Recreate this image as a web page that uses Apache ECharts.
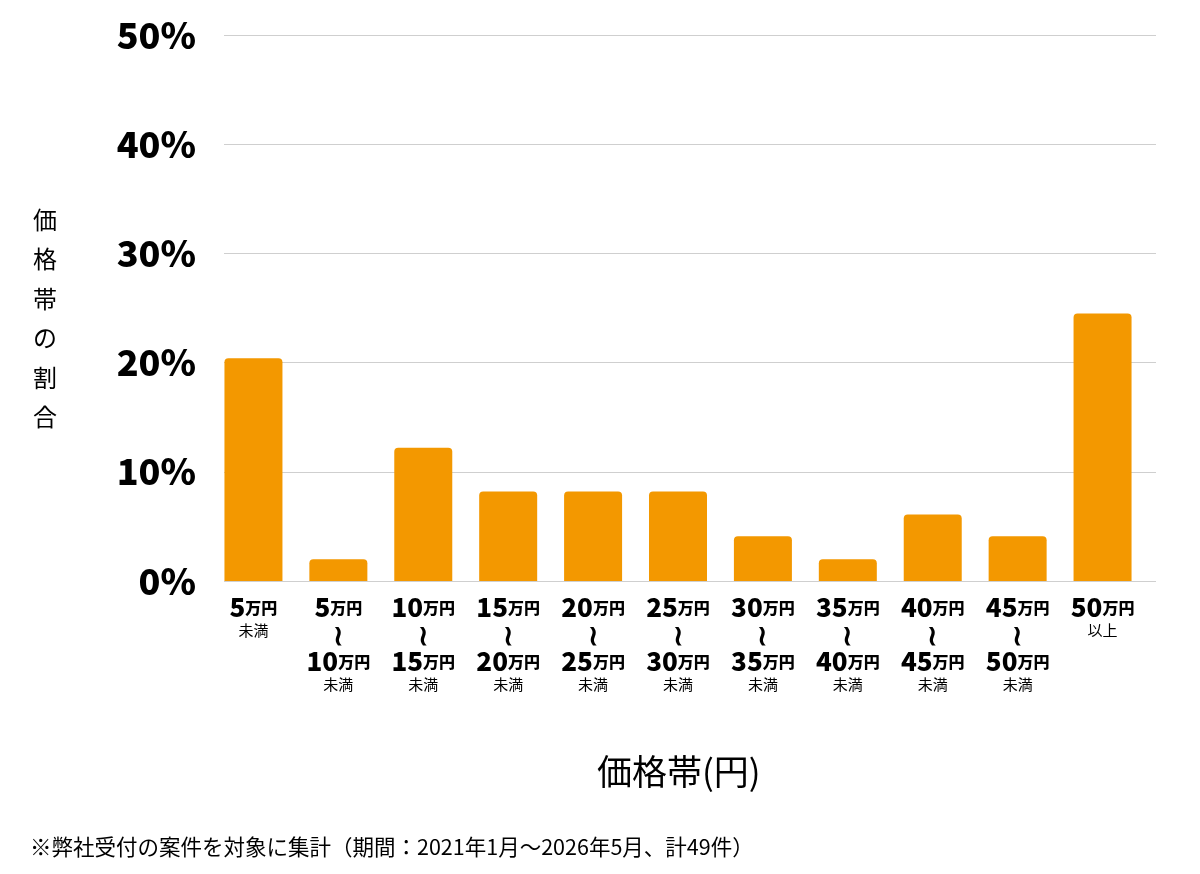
<!DOCTYPE html>
<html>
<head>
<meta charset="utf-8">
<script src="https://cdn.jsdelivr.net/npm/echarts@6/dist/echarts.min.js"></script>
<style>
html,body{margin:0;padding:0;background:#fff;}
#main{width:1200px;height:874px;}
</style>
</head>
<body>
<div id="main"></div>
<script>
const categories = ['5万円未満','5万円〜10万円未満','10万円〜15万円未満','15万円〜20万円未満','20万円〜25万円未満','25万円〜30万円未満','30万円〜35万円未満','35万円〜40万円未満','40万円〜45万円未満','45万円〜50万円未満','50万円以上'];
const shares = [20.4, 2.0, 12.2, 8.2, 8.2, 8.2, 4.1, 2.0, 6.1, 4.1, 24.5];
const yTicks = [0, 10, 20, 30, 40, 50];
const yTitle = '価格帯の割合';
const xTitle = '価格帯(円)';
const footnote = '※弊社受付の案件を対象に集計（期間：2021年1月〜2026年5月、計49件）';

const FONT = '"Noto Sans CJK JP", "Noto Sans", sans-serif';

function fmtCat(v) {
  let m = v.match(/^(\d+)万円〜(\d+)万円(.*)$/);
  if (m) {
    return '{num|' + m[1] + '}{unit|万円}\n{wave|≀}\n{num|' + m[2] + '}{unit|万円}\n{sub|' + m[3] + '}';
  }
  m = v.match(/^(\d+)万円(.*)$/);
  if (m) {
    return '{num|' + m[1] + '}{unit|万円}\n{sub|' + m[2] + '}';
  }
  return v;
}

const chart = echarts.init(document.getElementById('main'));
chart.setOption({
  backgroundColor: '#fff',
  animation: false,
  textStyle: { fontFamily: FONT },
  grid: [
    { left: 224, right: 44, top: 35, bottom: 293 },
    { left: 211, width: 934, top: 35, bottom: 293 }
  ],
  xAxis: [
    { gridIndex: 0, type: 'category', data: categories, show: false },
    {
      gridIndex: 1, type: 'category', data: categories,
      axisLine: { show: false }, axisTick: { show: false },
      axisLabel: {
        interval: 0, margin: 13, verticalAlign: 'top',
        formatter: fmtCat,
        rich: {
          num: { fontFamily: FONT, fontSize: 26, fontWeight: 900, color: '#000', lineHeight: 27 },
          unit: { fontFamily: FONT, fontSize: 16, fontWeight: 900, color: '#000', lineHeight: 27 },
          wave: { fontFamily: FONT, fontSize: 28, fontWeight: 900, color: '#000', lineHeight: 27 },
          sub: { fontFamily: FONT, fontSize: 15, color: '#000', lineHeight: 18 }
        }
      }
    }
  ],
  yAxis: [
    {
      gridIndex: 0, type: 'value', min: 0, max: 50, interval: 10,
      axisLine: { show: false }, axisTick: { show: false },
      splitLine: { show: true, lineStyle: { color: '#cfcfcf', width: 1 } },
      axisLabel: {
        margin: 28, color: '#000', fontSize: 36, fontWeight: 900, fontFamily: FONT,
        formatter: function (v) { return yTicks.indexOf(v) >= 0 ? v + '%' : ''; }
      }
    },
    { gridIndex: 1, type: 'value', min: 0, max: 50, interval: 10, show: false }
  ],
  series: [
    {
      type: 'bar', xAxisIndex: 1, yAxisIndex: 1,
      data: shares, barWidth: 58,
      itemStyle: { color: '#F39800', borderRadius: [4, 4, 0, 0] }
    }
  ],
  graphic: [
    {
      type: 'text', left: 33, top: 200,
      style: {
        text: yTitle.split('').join('\n'), fontFamily: FONT, fontSize: 24,
        lineHeight: 39.5, fill: '#000', align: 'center'
      }
    },
    {
      type: 'text', left: 597, top: 754,
      style: { text: xTitle, fontFamily: FONT, fontSize: 35, fill: '#000' }
    },
    {
      type: 'text', left: 30, top: 836,
      style: { text: footnote, fontFamily: FONT, fontSize: 21.5, fill: '#000' }
    }
  ]
});
</script>
</body>
</html>
